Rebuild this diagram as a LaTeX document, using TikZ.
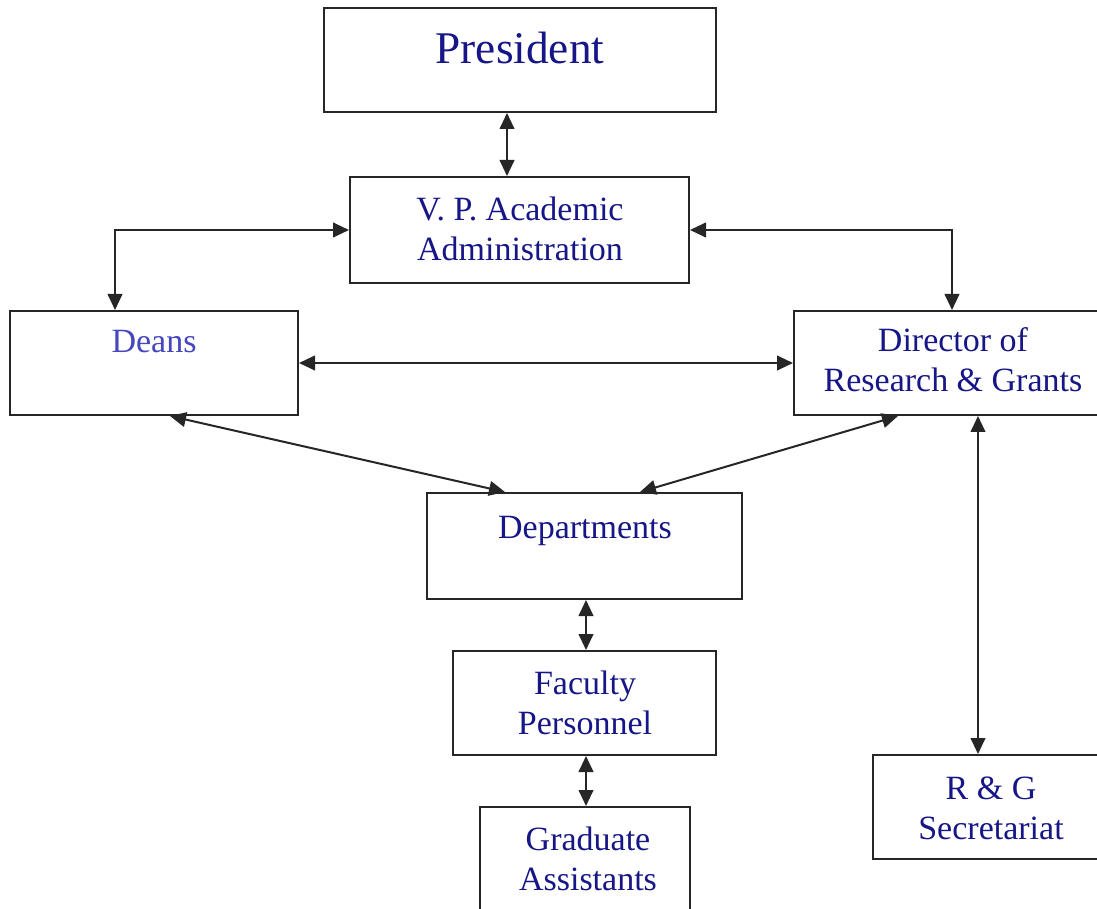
\documentclass[tikz,border=0pt]{standalone}
\usepackage{fontspec}
\setmainfont{Liberation Serif}
\usetikzlibrary{arrows.meta,fit,calc}
\definecolor{txt}{RGB}{22,22,135}
\definecolor{txtb}{RGB}{70,70,190}
\begin{document}
\begin{tikzpicture}[x=0.75pt,y=-0.75pt,
  box/.style={draw=black!85, line width=1.5pt, inner sep=0pt, rectangle},
  lbl/.style={text=txt, font=\fontsize{25.5}{30}\selectfont, align=center, inner sep=0pt, anchor=base},
  dbl/.style={line width=1.5pt, draw=black!85, {Triangle[length=12pt,width=11pt]}-{Triangle[length=12pt,width=11pt]}}]
\useasboundingbox (0,0) rectangle (1097,909);
\clip (0,0) rectangle (1097,909);
\fill[white] (0,0) rectangle (1097,909);
% boxes
\node[box, fit={(324,8) (716,112)}] (pres) {};
\node[box, fit={(350,177) (689,283)}] (vp) {};
\node[box, fit={(10,311) (298,415)}] (deans) {};
\node[box, fit={(794,311) (1100,415)}] (dir) {};
\node[box, fit={(427,493) (742,599)}] (dept) {};
\node[box, fit={(453,651) (716,755)}] (fac) {};
\node[box, fit={(480,807) (690,930)}] (grad) {};
\node[box, fit={(873,755) (1100,859)}] (rg) {};
% texts (anchor=base = baseline of the last line)
\node[lbl, font=\fontsize{34}{40}\selectfont] (tpres) at (520,64) {President};
\node[lbl] (tvp) at (520,261) {V. P. Academic\\Administration};
\node[lbl, text=txtb] (tdeans) at (154,353) {Deans};
\node[lbl] (tdir) at (953,392) {Director of\\Research \& Grants};
\node[lbl] (tdept) at (585,538) {Departments};
\node[lbl] (tfac) at (585,734) {Faculty\\Personnel};
\node[lbl] (tgrad) at (588,890) {Graduate\\Assistants};
\node[lbl] (trg) at (991,839) {R \& G\\Secretariat};
% helper coordinates
\coordinate (cpres) at (507,0);
\coordinate (cdeans) at (115,0);
\coordinate (cdir) at (952,0);
\coordinate (dl) at (170,0);
\coordinate (dtl) at (505,0);
\coordinate (dtr) at (640,0);
\coordinate (dr) at (898,0);
\coordinate (crg) at (978,0);
\coordinate (cdept) at (586,0);
% connectors
\draw[dbl] (pres.south -| cpres) -- (vp.north -| cpres);
\draw[dbl] (vp.west) -| (deans.north -| cdeans);
\draw[dbl] (vp.east) -| (dir.north -| cdir);
\draw[dbl] (deans.east) -- (dir.west);
\draw[dbl] (deans.south -| dl) -- (dept.north -| dtl);
\draw[dbl] (dir.south -| dr) -- (dept.north -| dtr);
\draw[dbl] (dir.south -| crg) -- (rg.north -| crg);
\draw[dbl] (dept.south -| cdept) -- (fac.north -| cdept);
\draw[dbl] (fac.south -| cdept) -- (grad.north -| cdept);
\end{tikzpicture}
\end{document}
